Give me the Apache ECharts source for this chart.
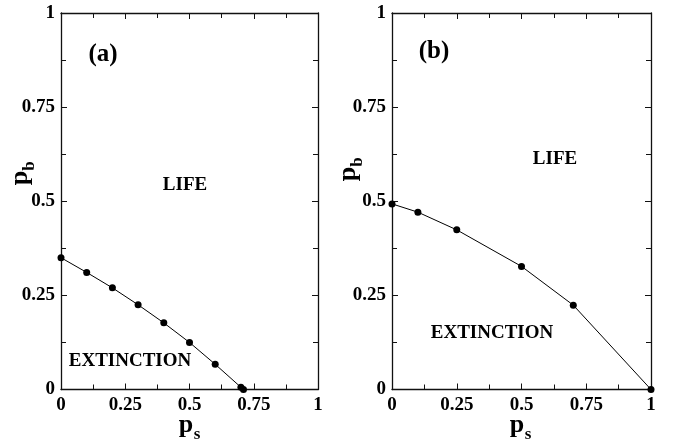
<!DOCTYPE html>
<html><head><meta charset="utf-8">
<script src="https://cdn.jsdelivr.net/npm/echarts@6/dist/echarts.min.js"></script>
<style>html,body{margin:0;padding:0;background:#fff}#c{width:673px;height:442px}</style>
</head><body><div id="c"></div>
<script>
// Panel (a)
const psA = [0, 0.1, 0.2, 0.3, 0.4, 0.5, 0.6, 0.7, 0.71];
const pbA = [0.35, 0.311, 0.27, 0.225, 0.177, 0.125, 0.067, 0.006, 0];
// Panel (b)
const psB = [0, 0.1, 0.25, 0.5, 0.7, 1];
const pbB = [0.493, 0.471, 0.424, 0.327, 0.224, 0];
const tickStep = 0.25;
const panelLabels = ['(a)', '(b)'];
const regionLabels = ['LIFE', 'EXTINCTION'];

const FONT = '"Liberation Serif","DejaVu Serif",serif';
const grids = [
  {left: 61, top: 13, width: 257, height: 376.5},
  {left: 392, top: 13, width: 259, height: 376.5}
];
function axisCommon(show, pos, gi) {
  return {
    type: 'value', min: 0, max: 1, interval: tickStep, gridIndex: gi, position: pos,
    axisLine: {show: true, onZero: false, lineStyle: {color: '#111', width: 1.3}},
    axisTick: {show: true, inside: true, length: 6, lineStyle: {color: '#111', width: 1}},
    minorTick: {show: true, splitNumber: 2, length: 5, lineStyle: {color: '#111', width: 1}},
    splitLine: {show: false},
    axisLabel: {show: show, color: '#000', fontFamily: FONT, fontWeight: 'bold', fontSize: 19, margin: 6,
      formatter: v => String(+v.toFixed(2))},
  };
}
const xAxes = [], yAxes = [];
[0, 1].forEach(gi => {
  xAxes.push(axisCommon(true, 'bottom', gi));
  xAxes.push(axisCommon(false, 'top', gi));
  yAxes.push(axisCommon(true, 'left', gi));
  yAxes.push(axisCommon(false, 'right', gi));
});

function zip(xs, ys) { return xs.map((x, i) => [x, ys[i]]); }
const lineStyle = {color: '#000', width: 1};
const series = [
  {type: 'line', xAxisIndex: 0, yAxisIndex: 0, data: zip(psA, pbA), symbol: 'circle', symbolSize: 7,
   lineStyle: lineStyle, itemStyle: {color: '#000'}, animation: false},
  {type: 'line', xAxisIndex: 2, yAxisIndex: 2, data: zip(psB, pbB), symbol: 'circle', symbolSize: 7,
   lineStyle: lineStyle, itemStyle: {color: '#000'}, animation: false}
];

function txt(text, x, y, size, extra) {
  return Object.assign({type: 'text', x: x, y: y, style: {text: text, fill: '#000', font: 'bold ' + size + 'px ' + FONT,
    align: 'center', verticalAlign: 'middle'}}, extra || {});
}
const graphic = [
  txt(panelLabels[0], 103, 55, 25),
  txt(panelLabels[1], 434, 52, 25),
  txt(regionLabels[0], 185, 185, 19),
  txt(regionLabels[1], 130, 361, 19),
  txt(regionLabels[0], 555, 159, 19),
  txt(regionLabels[1], 492, 333, 19),
  // axis names p_s
  txt('p', 186, 425, 26), txt('s', 197, 435, 17),
  txt('p', 517, 425, 26), txt('s', 528, 435, 17),
  // axis names p_b (rotated)
  txt('p', 20, 178, 26, {rotation: Math.PI / 2}), txt('b', 30, 166, 17, {rotation: Math.PI / 2}),
  txt('p', 348, 174, 26, {rotation: Math.PI / 2}), txt('b', 358, 162, 17, {rotation: Math.PI / 2})
];

const chart = echarts.init(document.getElementById('c'), null, {renderer: 'canvas'});
chart.setOption({animation: false, grid: grids, xAxis: xAxes, yAxis: yAxes, series: series, graphic: graphic});
</script></body></html>
